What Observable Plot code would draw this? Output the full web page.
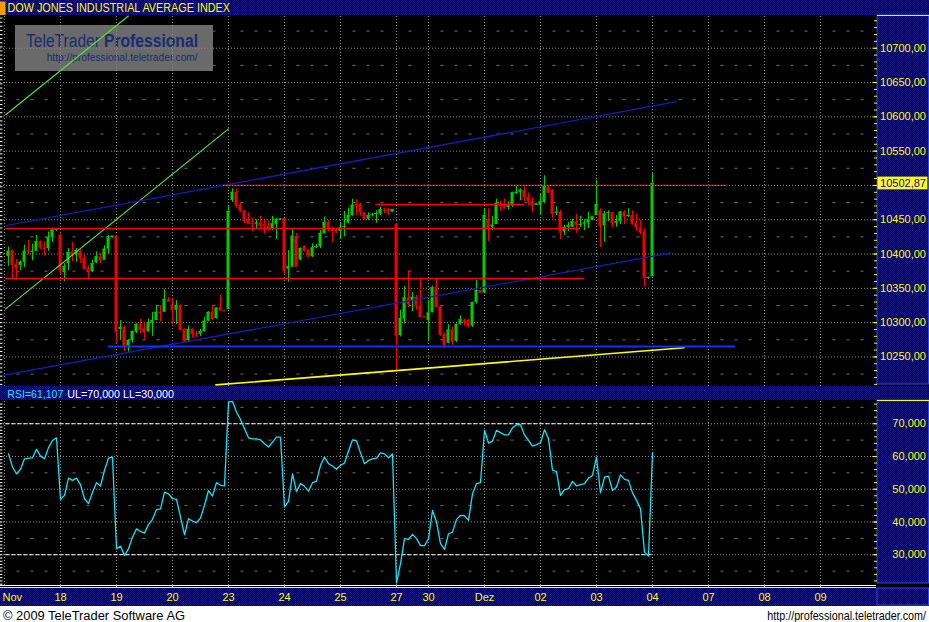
<!DOCTYPE html>
<html><head><meta charset="utf-8">
<script src="https://cdn.jsdelivr.net/npm/d3@7"></script>
<script src="https://cdn.jsdelivr.net/npm/@observablehq/plot@0.6"></script>
<style>
html,body{margin:0;padding:0;background:#000;}
#c{position:relative;width:929px;height:622px;background:#000;overflow:hidden;font-family:"Liberation Sans",Arial,sans-serif;}
.layer{position:absolute;left:0;top:0;overflow:visible;}
.pass{pointer-events:none;}
#c text{pointer-events:auto;}
</style></head>
<body><div id="c"></div>
<script>
// ---------------- DATA ----------------
const title = "DOW JONES INDUSTRIAL AVERAGE INDEX";
// half-hour slots; day boundaries (slot index) and their labels
const dayStarts = [0,14,28,42,56,70,84,98,106,120,134,148,162,176,190,204];
const dayLabels = ["Nov","18","19","20","23","24","25","27","30","Dez","02","03","04","07","08","09"];
const firstSlot = 1;
const opens = [10396,10405,10385,10383,10388,10405,10403,10404,10418,10409,10408,10424,10435,
10427,10373,10386,10403,10399,10404,10394,10379,10374,10387,10396,10391,10407,10424,
10426,10290,10293,10266,10274,10286,10297,10292,10287,10299,10303,10315,10315,10333,
10326,10318,10325,10290,10274,10290,10284,10283,10287,10302,10315,10306,10322,10318,
10319,10478,10490,10471,10463,10450,10445,10444,10445,10443,10441,10437,10443,10450,
10452,10378,10381,10426,10391,10411,10405,10396,10409,10411,10430,10446,10438,10435,
10433,10439,10445,10456,10472,10473,10460,10451,10456,10458,10458,10465,10465,10461,
10443,10281,10305,10336,10331,10337,10324,10309,
10303,10315,10351,10323,10283,10270,10289,10273,10297,10303,10303,10295,10329,10347,
10343,10450,10439,10443,10473,10470,10468,10470,10488,10490,10493,10483,10477,10471,
10471,10475,10497,10493,10460,10461,10432,10439,10439,10447,10442,10444,10445,10449,
10456,10463,10441,10459,10460,10445,10448,10461,10455,10456,10444,10437,10432,10365,
10367];
const highs = [10410,10406,10392,10390,10413,10420,10414,10427,10419,10418,10432,10438,10437,
10429,10386,10408,10417,10408,10406,10398,10383,10391,10403,10401,10412,10427,10426,
10426,10303,10295,10275,10288,10299,10305,10301,10305,10315,10325,10325,10348,10337,
10336,10332,10326,10291,10295,10291,10287,10290,10308,10316,10325,10322,10340,10318,
10469,10495,10495,10475,10464,10460,10452,10450,10455,10449,10448,10455,10452,10451,
10452,10405,10437,10430,10409,10412,10407,10415,10414,10434,10454,10449,10439,10437,
10446,10462,10467,10480,10479,10474,10460,10460,10459,10463,10468,10467,10467,10465,
10444,10318,10353,10376,10344,10340,10364,10309,
10332,10353,10364,10325,10285,10297,10293,10298,10310,10305,10305,10330,10362,10347,
10466,10466,10455,10480,10477,10480,10476,10490,10500,10495,10498,10489,10482,10474,
10487,10514,10500,10494,10469,10464,10442,10446,10451,10458,10455,10450,10461,10454,
10507,10466,10462,10463,10461,10456,10462,10463,10466,10463,10458,10449,10437,10366,
10518];
const lows = [10382,10364,10362,10376,10380,10399,10390,10404,10406,10397,10404,10417,10433,
10369,10360,10376,10389,10388,10386,10378,10364,10373,10386,10386,10391,10400,10423,
10270,10274,10258,10257,10270,10284,10284,10275,10286,10280,10303,10301,10315,10331,
10297,10297,10288,10271,10272,10277,10278,10280,10286,10301,10303,10305,10318,10317,
10319,10475,10467,10460,10444,10443,10433,10437,10437,10429,10433,10434,10421,10449,
10369,10359,10380,10381,10390,10403,10395,10395,10408,10408,10429,10432,10417,10430,
10421,10425,10444,10455,10456,10455,10449,10449,10454,10445,10456,10459,10456,10461,
10230,10279,10298,10322,10316,10318,10308,10308,
10273,10314,10322,10280,10263,10269,10267,10271,10297,10295,10292,10293,10327,10344,
10342,10418,10434,10443,10462,10466,10464,10468,10487,10478,10476,10470,10460,10471,
10456,10473,10488,10452,10456,10421,10427,10433,10439,10430,10439,10434,10437,10449,
10456,10409,10417,10447,10438,10439,10443,10443,10453,10442,10433,10428,10351,10363,
10367];
const closes = [10404,10385,10380,10388,10404,10403,10404,10418,10410,10408,10424,10435,10436,
10375,10382,10402,10398,10405,10394,10379,10375,10386,10396,10391,10407,10425,10426,
10287,10293,10266,10274,10287,10297,10290,10287,10300,10303,10315,10314,10334,10331,
10319,10325,10290,10273,10290,10284,10283,10287,10302,10315,10306,10321,10318,10317,
10462,10490,10471,10463,10449,10444,10444,10445,10442,10441,10437,10444,10450,10451,
10376,10382,10426,10382,10408,10405,10397,10409,10411,10430,10446,10438,10434,10432,
10438,10440,10456,10471,10470,10462,10452,10456,10457,10459,10465,10464,10463,10465,
10281,10306,10336,10328,10337,10324,10309,10308,
10314,10351,10323,10283,10268,10289,10273,10297,10304,10301,10295,10329,10347,10344,
10456,10437,10442,10474,10470,10467,10470,10489,10490,10493,10483,10478,10471,10473,
10476,10498,10490,10459,10461,10432,10439,10441,10447,10443,10443,10445,10450,10454,
10472,10441,10458,10460,10445,10447,10461,10455,10456,10444,10438,10432,10366,10366,
10502.87];
const rsi = [60.8,56.8,54.7,56.1,59.3,59.5,59.6,62.2,60.1,59.3,62.7,64.9,65.7,
46.9,48.1,53.4,52.7,53.4,51.4,47.1,45.6,49.1,52.0,51.0,55.8,59.5,59.8,
31.8,32.6,29.8,31.8,35.4,37.9,37.1,36.6,39.2,40.8,43.8,44.0,49.1,48.6,
47.1,46.9,41.5,36.1,41.0,40.3,39.8,41.2,45.1,49.6,47.9,52.0,51.2,51.0,
76.6,76.8,73.6,71.3,68.5,65.7,65.4,65.4,65.1,63.9,62.9,64.4,65.9,65.9,
44.6,46.3,54.7,49.3,51.7,50.9,49.4,52.0,52.5,57.3,59.8,57.8,57.1,56.1,
57.3,58.0,61.6,65.1,64.8,61.1,57.8,58.8,59.3,59.5,61.1,60.8,59.6,60.8,
21.4,27.3,34.9,34.7,36.2,34.9,32.8,32.8,
34.9,43.5,40.0,33.4,31.6,36.4,36.9,40.8,42.0,41.9,40.5,48.6,51.7,52.0,
68.0,64.1,64.7,68.0,67.3,66.6,66.6,68.8,69.7,69.7,66.6,64.9,63.2,63.6,
64.2,68.2,65.4,55.8,55.4,48.1,49.9,50.2,52.4,51.0,51.4,51.7,53.4,54.2,
59.8,48.9,53.7,54.0,49.6,50.7,54.4,53.0,52.7,48.9,46.6,44.0,30.8,29.6,
61.107];
const UL = 70, LL = 30;
// drawn trend lines: [slot, value] end points
const greenTrend1 = [[0.3, 10603], [30.95, 10747]];
const greenTrend2 = [[0.3, 10320], [56, 10582.5]];
const channelUpper = [[0.3, 10441.5], [168, 10622]];
const channelLower = [[-0.45, 10223], [166.5, 10401.5]];
const yellowTrend = [[52.85, 10209.3], [169.9, 10263.3]];
// horizontal levels: [value, fromSlot, toSlot]
const redLevels = [[10437.2, 0.3, 144], [10364.3, 0.3, 145], [10472.2, 92.8, 130]];
const resistLevels = [[10500, 54.8, 180.8]];
const blueLevels = [[10265.2, 25.95, 182.8]];
const priceTicks = [10250,10300,10350,10400,10450,10500,10550,10600,10650,10700];
const rsiTicks = [30,40,50,60,70];

// ---------------- LAYOUT / STYLE ----------------
const W = 929, MR = 52;
const X_DOMAIN = [-1, 218.25];          // 4 px per slot, plot area 0..877
const TOP_Y = 15, TOP_H = 371;
const RSI_Y = 400, RSI_H = 185, XBAND = 21;
const Y_DOMAIN = [10206.9, 10747.7];
const R_DOMAIN = [20.6, 77.1];
const GREEN = "#00cc00", RED = "#f00000", YEL = "#ffff00", GRID = "#8a8a8a";
const FONT = "Liberation Sans, Arial, sans-serif";
const BORDER = "#2c4be6";

const candles = opens.map((o, i) => ({slot: firstSlot + i, open: o, high: highs[i], low: lows[i], close: closes[i]}));
const rsiData = rsi.map((v, i) => ({slot: firstSlot + i, rsi: v}));
const candleColor = d => d.close >= d.open ? GREEN : RED;
const lastClose = closes[closes.length - 1];
const lastSlot = firstSlot + closes.length - 1;

const bounds = [...dayStarts, X_DOMAIN[1]];
const quarterSlots = [];
dayStarts.forEach((s, i) => { const len = bounds[i + 1] - s; for (let k = 1; k * 3.5 < len - 1; k++) quarterSlots.push(s + k * 3.5); });
const minorPrice = priceTicks.map(v => v - 25).concat([priceTicks[priceTicks.length - 1] + 25]);
const minorRsi = [25, 35, 45, 55, 65, 75];
const cross = (xs, ys) => xs.flatMap(x => ys.map(y => [x, y]));
const gridEnd = 217.25, tickIn = 217.5, tickMaj = 217.1, leftTick = -0.4;
const tagW = 12.6, tagH = 9.3;           // price tag box size in scale units
const labelTicks = priceTicks.filter(v => Math.abs(v - lastClose) > 2 * tagH);  // the tag hides the label under it
const fmt = (v, n) => v.toFixed(n).replace(".", ",");

const host = document.getElementById("c");

// ---------- background chrome ----------
const bg = d3.select(host).append("svg").attr("class", "layer").attr("width", W).attr("height", 622)
  .style("font-family", FONT);
const pat = bg.append("defs").append("pattern").attr("id", "nv").attr("width", 2).attr("height", 2).attr("patternUnits", "userSpaceOnUse");
pat.append("rect").attr("width", 2).attr("height", 2).attr("fill", "#00004a");
pat.append("rect").attr("width", 1).attr("height", 1).attr("fill", "#16167e");
pat.append("rect").attr("x", 1).attr("y", 1).attr("width", 1).attr("height", 1).attr("fill", "#16167e");
const box = (x, y, w, h, fill) => bg.append("rect").attr("x", x).attr("y", y).attr("width", w).attr("height", h).attr("fill", fill);
const hline = (x1, x2, y, col) => bg.append("line").attr("x1", x1).attr("x2", x2).attr("y1", y).attr("y2", y).attr("stroke", col);
function txt(g, x, y, str, size, fill, o = {}) {
  const t = g.append("text").attr("x", x).attr("y", y).attr("font-size", size).attr("fill", fill).text(str);
  if (o.len) t.attr("textLength", o.len).attr("lengthAdjust", "spacingAndGlyphs");
  if (o.weight) t.attr("font-weight", o.weight);
  return t;
}
// title bar
box(0, 0, W, 15, "url(#nv)");
box(0, 1.5, 5.5, 13.5, "#ff9c00");
txt(bg, 7.5, 12.4, title, 12.5, YEL, {len: 222.5});
// watermark logo
box(15, 25, 198, 46, "#6a6a6a");
txt(bg, 26, 46.5, "TeleTrader", 18, "#1b2a72", {len: 74});
txt(bg, 104, 46.5, "Professional", 18, "#1b2a72", {len: 94, weight: "bold"});
txt(bg, 46.7, 60.5, "http://professional.teletrader.com/", 10.5, "#1b2a72", {len: 151});
// right price axis panel
box(877, 15, 51.5, 369, "url(#nv)").attr("stroke", BORDER);
hline(877, 929, 15.5, YEL);
// RSI header
box(0, 386, W, 14, "url(#nv)");
txt(bg, 7.3, 397.5, "RSI=" + fmt(rsi[rsi.length - 1], 3), 10.8, "#18e0ff", {len: 56});
txt(bg, 67.3, 397.5, "UL=" + fmt(UL, 3) + " LL=" + fmt(LL, 3), 10.8, "#ffffff", {len: 106.7});
// RSI right panel
box(877, 400, 51.5, 183, "url(#nv)").attr("stroke", BORDER);
hline(877, 929, 400.5, YEL);
// x band
box(0, 588, W, 18, "url(#nv)");
box(877, 588, 51.5, 17, "none").attr("stroke", BORDER);
hline(0, 876, 585.5, "#ffffff");
hline(0, 876, 587.5, YEL);
// footer
box(0, 606, W, 16, "#ffffff");
txt(bg, 3, 619.5, "\u00a9 2009 TeleTrader Software AG", 12.5, "#000", {len: 182});
bg.append("text").attr("transform", "translate(926,619.5) scale(0.86,1)").attr("text-anchor", "end")
  .attr("font-size", 12.5).attr("fill", "#000").text("http://professional.teletrader.com/");

// ---------- price panel ----------
const pricePlot = Plot.plot({
  width: W, height: TOP_H, marginLeft: 0, marginRight: MR, marginTop: 0, marginBottom: 0,
  x: {domain: X_DOMAIN, axis: null},
  y: {domain: Y_DOMAIN, axis: null},
  style: {background: "transparent", color: YEL, fontFamily: FONT, overflow: "visible"},
  marks: [
    Plot.ruleY(priceTicks, {x1: X_DOMAIN[0], x2: gridEnd, stroke: GRID, strokeDasharray: "1,2"}),
    Plot.ruleX(dayStarts, {y1: Y_DOMAIN[0], y2: Y_DOMAIN[1], stroke: GRID, strokeDasharray: "1,2"}),
    Plot.ruleY(cross(quarterSlots, minorPrice), {y: d => d[1], x1: d => d[0] - 0.4, x2: d => d[0] + 0.4, stroke: "#6a6a6a"}),
    Plot.ruleY(d3.range(10210, 10748, 6), {x1: X_DOMAIN[0], x2: leftTick, stroke: "#ffffff"}),
    // candles
    Plot.ruleX(candles, {x: "slot", y1: "low", y2: "high", stroke: candleColor}),
    Plot.rect(candles, {x1: d => d.slot - 0.375, x2: d => d.slot + 0.375,
      y1: d => Math.min(d.open, d.close), y2: d => Math.max(d.open, d.close), fill: candleColor}),
    Plot.ruleY(candles, {y: "close", x1: d => d.slot - 0.375, x2: d => d.slot + 0.375, stroke: candleColor}),
    // drawing tools
    Plot.line(greenTrend1, {x: d => d[0], y: d => d[1], stroke: "#52e83a", strokeWidth: 1.1}),
    Plot.line(greenTrend2, {x: d => d[0], y: d => d[1], stroke: "#52e83a", strokeWidth: 1.1}),
    Plot.line(channelUpper, {x: d => d[0], y: d => d[1], stroke: "#1a1ab4", strokeWidth: 1.3}),
    Plot.line(channelLower, {x: d => d[0], y: d => d[1], stroke: "#1a1ab4", strokeWidth: 1.3}),
    Plot.line(yellowTrend, {x: d => d[0], y: d => d[1], stroke: "#ffff00", strokeWidth: 1.6}),
    Plot.ruleY(blueLevels, {y: d => d[0], x1: d => d[1], x2: d => d[2], stroke: "#1030ff", strokeWidth: 1.8}),
    Plot.ruleY(redLevels, {y: d => d[0], x1: d => d[1], x2: d => d[2], stroke: "#ff0000", strokeWidth: 1.7}),
    Plot.ruleY(resistLevels, {y: d => d[0], x1: d => d[1], x2: d => d[2], stroke: "#d80000", strokeWidth: 1.2}),
    Plot.ruleY(resistLevels, {y: d => d[0], x1: d => d[1], x2: d => d[2], stroke: "#a8a8a8", strokeDasharray: "1,2"}),
    // right axis ticks + labels
    Plot.ruleY(d3.range(10210, 10748, 10), {x1: tickIn, x2: X_DOMAIN[1], stroke: YEL}),
    Plot.ruleY(priceTicks, {x1: tickMaj, x2: X_DOMAIN[1], stroke: YEL}),
    Plot.axisY({anchor: "right", ticks: labelTicks, tickSize: 0, tickPadding: 48.5, textAnchor: "end",
      tickFormat: d => fmt(d, 2), color: YEL, fontSize: 11, label: null}),
    // current price tag
    Plot.rect([lastClose], {x1: X_DOMAIN[1] + 0.1, x2: X_DOMAIN[1] + tagW, y1: d => d - tagH, y2: d => d + tagH, fill: "#ffff00"}),
    Plot.text([lastClose], {y: d => d, frameAnchor: "right", dx: 48.5, textAnchor: "end", text: d => fmt(d, 2),
      fill: "#0000ee", fontSize: 11})
  ]
});
pricePlot.setAttribute("class", "layer pass");
pricePlot.style.top = TOP_Y + "px";
host.appendChild(pricePlot);

// ---------- RSI panel ----------
const rsiPlot = Plot.plot({
  width: W, height: RSI_H + XBAND, marginLeft: 0, marginRight: MR, marginTop: 0, marginBottom: XBAND,
  x: {domain: X_DOMAIN, axis: null},
  y: {domain: R_DOMAIN, axis: null},
  style: {background: "transparent", color: YEL, fontFamily: FONT, overflow: "visible"},
  marks: [
    Plot.ruleY(rsiTicks, {x1: X_DOMAIN[0], x2: gridEnd, stroke: GRID, strokeDasharray: "1,2"}),
    Plot.ruleX(dayStarts, {y1: R_DOMAIN[0], y2: R_DOMAIN[1], stroke: GRID, strokeDasharray: "1,2"}),
    Plot.ruleY(cross(quarterSlots, minorRsi), {y: d => d[1], x1: d => d[0] - 0.4, x2: d => d[0] + 0.4, stroke: "#6a6a6a"}),
    Plot.ruleY(d3.range(21, 77, 1), {x1: X_DOMAIN[0], x2: leftTick, stroke: "#ffffff"}),
    Plot.ruleY([UL, LL], {x1: 0.3, x2: lastSlot, stroke: "#ffffff", strokeDasharray: "4,2"}),
    Plot.line(rsiData, {x: "slot", y: "rsi", stroke: "#10e4f6", strokeWidth: 1.3}),
    Plot.ruleY(d3.range(22, 77, 2), {x1: tickIn, x2: X_DOMAIN[1], stroke: YEL}),
    Plot.ruleY(rsiTicks, {x1: tickMaj, x2: X_DOMAIN[1], stroke: YEL}),
    Plot.axisY({anchor: "right", ticks: rsiTicks, tickSize: 0, tickPadding: 48.5, textAnchor: "end",
      tickFormat: d => fmt(d, 3), color: YEL, fontSize: 11, label: null}),
    Plot.axisX({anchor: "bottom", ticks: dayStarts.slice(1), tickSize: 3, tickPadding: 5,
      tickFormat: d => dayLabels[dayStarts.indexOf(d)], color: YEL, fontSize: 11, label: null}),
    Plot.text([dayLabels[0]], {x: dayStarts[0], frameAnchor: "bottom", lineAnchor: "top", textAnchor: "start",
      dx: -2, dy: 8, fill: YEL, fontSize: 11})
  ]
});
rsiPlot.setAttribute("class", "layer pass");
rsiPlot.style.top = RSI_Y + "px";
host.appendChild(rsiPlot);
</script></body></html>
